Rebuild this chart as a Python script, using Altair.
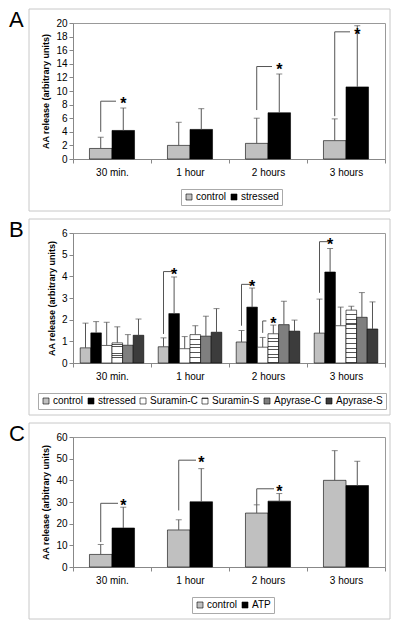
import altair as alt
import pandas as pd

categories = ["30 min.", "1 hour", "2 hours", "3 hours"]

# ---- Panel A ----
a_series = ["control", "stressed"]
a_control = [1.55, 2.0, 2.3, 2.7]
a_control_err = [3.2, 5.4, 6.0, 5.9]
a_stressed = [4.2, 4.35, 6.8, 10.6]
a_stressed_err = [7.5, 7.4, 12.5, 19.6]
a_sig_category = ["30 min.", "2 hours", "3 hours"]
a_sig_from = ["control", "control", "control"]
a_sig_to = ["stressed", "stressed", "stressed"]
a_sig_low = [4.0, 7.2, 6.3]
a_sig_high = [8.5, 13.6, 18.7]

# ---- Panel B ----
b_series = ["control", "stressed", "Suramin-C", "Suramin-S", "Apyrase-C", "Apyrase-S"]
b_control = [0.70, 0.75, 0.97, 1.38]
b_control_err = [1.84, 1.16, 1.50, 2.95]
b_stressed = [1.39, 2.28, 2.58, 4.20]
b_stressed_err = [1.91, 3.97, 3.46, 5.28]
b_suramin_c = [0.81, 0.66, 0.73, 1.72]
b_suramin_c_err = [1.88, 1.22, 1.18, 2.58]
b_suramin_s = [0.93, 1.31, 1.35, 2.44]
b_suramin_s_err = [1.67, 1.72, 1.75, 2.62]
b_apyrase_c = [0.82, 1.24, 1.77, 2.11]
b_apyrase_c_err = [1.31, 2.16, 2.85, 3.25]
b_apyrase_s = [1.28, 1.42, 1.47, 1.57]
b_apyrase_s_err = [2.03, 2.51, 1.98, 2.82]
b_sig_category = ["1 hour", "2 hours", "2 hours", "3 hours"]
b_sig_from = ["control", "control", "Suramin-C", "control"]
b_sig_to = ["stressed", "stressed", "Suramin-S", "stressed"]
b_sig_low = [1.34, 1.72, 1.39, 3.24]
b_sig_high = [4.22, 3.63, 1.94, 5.6]

# ---- Panel C ----
c_series = ["control", "ATP"]
c_control = [5.8, 17.1, 24.9, 40.0]
c_control_err = [10.4, 21.8, 28.7, 53.7]
c_atp = [18.0, 30.1, 30.4, 37.6]
c_atp_err = [27.6, 45.4, 33.9, 48.8]
c_sig_category = ["30 min.", "1 hour", "2 hours"]
c_sig_from = ["control", "control", "control"]
c_sig_to = ["ATP", "ATP", "ATP"]
c_sig_low = [11.5, 26.1, 28.7]
c_sig_high = [29.4, 49.3, 36.1]

W = 312
FONT = "Liberation Sans"
LINE = "#555555"
YTITLE = "AA release (arbitrary units)"


def stripes(n=11, frac=0.22, ink="#555555"):
    stops = []
    for i in range(n):
        a = i / n
        b = (i + 1 - frac) / n
        c = (i + 1) / n
        stops += [(a, "#ffffff"), (b, "#ffffff"), (b, ink), (c, ink)]
    s = ",".join("{offset: %.4f, color: '%s'}" % (o, col) for o, col in stops)
    return alt.ExprRef("{gradient: 'linear', x1: 0, y1: 0, x2: 0, y2: 1, stops: [%s]}" % s)


def panel(letter, series, vals, errs, colors, sig, ymax, ystep, H, legend_x,
          pad_outer, x2_off):
    rows = [dict(category=c, series=s, value=v, err=e)
            for s, vs, es in zip(series, vals, errs)
            for c, v, e in zip(categories, vs, es)]
    df = pd.DataFrame(rows)
    sdf = pd.DataFrame(sig)
    ldf = pd.DataFrame({"label": [letter]})

    xs = alt.Scale(domain=categories, paddingInner=0, paddingOuter=0)
    xax = alt.Axis(title=None, labelAngle=0, tickBand="extent", tickSize=4,
                   labelPadding=4, labelFontSize=10, domainColor="#888888",
                   tickColor="#888888", labelColor="black", labelFont=FONT)

    def X():
        return alt.X("category:N", scale=xs, axis=xax)

    os_ = alt.Scale(domain=series, paddingInner=0, paddingOuter=pad_outer)

    def XO(f):
        return alt.XOffset(f + ":N", scale=os_)

    ys = alt.Scale(domain=[0, ymax], nice=False)
    yax = alt.Axis(values=list(range(0, ymax + 1, ystep)), grid=False, tickSize=4,
                   labelPadding=2, labelFontSize=10, labelColor="black",
                   labelFont=FONT, domainColor="#888888", tickColor="#888888",
                   titleFont=FONT, titleFontSize=9, titleFontWeight="bold",
                   titleColor="black", titlePadding=5)

    def Y(f):
        return alt.Y(f + ":Q", scale=ys, axis=yax, title=YTITLE)

    frame = alt.Chart(ldf).mark_rect(fillOpacity=0, stroke="#c8c8c8", strokeWidth=1).encode(
        x=alt.value(-44), x2=alt.value(W + 5), y=alt.value(-14), y2=alt.value(H + 52))
    tag = alt.Chart(ldf).mark_text(align="left", baseline="alphabetic", fontSize=22,
                                   font=FONT, color="black").encode(
        text="label:N", x=alt.value(-64), y=alt.value(3.5))
    bars = alt.Chart(df).mark_bar(stroke="black", strokeWidth=0.6).encode(
        x=X(), xOffset=XO("series"), y=Y("value"),
        fill=alt.Fill("series:N", scale=alt.Scale(domain=series, range=colors),
                      legend=alt.Legend(orient="none", legendX=legend_x, legendY=H + 30,
                                        direction="horizontal", title=None,
                                        strokeColor="#aaaaaa", padding=3,
                                        symbolType="square", symbolSize=36,
                                        symbolStrokeColor="black", symbolStrokeWidth=0.6,
                                        labelFontSize=10, labelFont=FONT,
                                        labelColor="black", columnPadding=2,
                                        labelOffset=2)))
    err = alt.Chart(df).mark_rule(color=LINE, strokeWidth=1).encode(
        x=X(), xOffset=XO("series"), y=Y("value"), y2="err:Q")
    caps = alt.Chart(df).mark_tick(color=LINE, size=6, thickness=1).encode(
        x=X(), xOffset=XO("series"), y=Y("err"))
    vert = alt.Chart(sdf).mark_rule(color=LINE, strokeWidth=1).encode(
        x=X(), xOffset=XO("s_from"), y=Y("low"), y2="high:Q")
    horiz = []
    for key, off in x2_off.items():
        horiz.append(
            alt.Chart(sdf).transform_filter(alt.datum.s_from == key)
            .mark_rule(color=LINE, strokeWidth=1, x2Offset=off)
            .encode(x=X(), xOffset=XO("s_from"), x2="category:N", y=Y("high")))
    stars = alt.Chart(sdf).mark_text(text="*", fontSize=16, fontWeight="bold", font=FONT,
                                     baseline="alphabetic", dy=8, color="black").encode(
        x=X(), xOffset=XO("s_to"), y=Y("high"))
    return alt.layer(frame, tag, bars, err, caps, vert, *horiz, stars).properties(
        width=W, height=H)


def sig(cat, f, t, lo, hi):
    return {"category": cat, "s_from": f, "s_to": t, "low": lo, "high": hi}


pa = panel("A", a_series, [a_control, a_stressed], [a_control_err, a_stressed_err],
           ["#c0c0c0", "#000000"],
           sig(a_sig_category, a_sig_from, a_sig_to, a_sig_low, a_sig_high),
           20, 2, 136, 108, 0.73, {"control": 4})
pb = panel("B", b_series,
           [b_control, b_stressed, b_suramin_c, b_suramin_s, b_apyrase_c, b_apyrase_s],
           [b_control_err, b_stressed_err, b_suramin_c_err, b_suramin_s_err,
            b_apyrase_c_err, b_apyrase_s_err],
           ["#c0c0c0", "#000000", "#ffffff", stripes(), "#7f7f7f", "#3c3c3c"],
           sig(b_sig_category, b_sig_from, b_sig_to, b_sig_low, b_sig_high),
           6, 1, 130, -35, 0.68, {"control": -17.5, "Suramin-C": -1.6})
pc = panel("C", c_series, [c_control, c_atp], [c_control_err, c_atp_err],
           ["#c0c0c0", "#000000"],
           sig(c_sig_category, c_sig_from, c_sig_to, c_sig_low, c_sig_high),
           60, 10, 130, 119, 0.73, {"control": 6})

chart = alt.vconcat(pa, pb, pc, spacing=6).resolve_scale(
    fill="independent", xOffset="independent", y="independent"
).resolve_legend(fill="independent").properties(
    padding=0, background="white"
).configure_view(stroke="#999999", strokeWidth=1)

chart.save("out.html", embed_options={"renderer": "svg", "actions": False})
